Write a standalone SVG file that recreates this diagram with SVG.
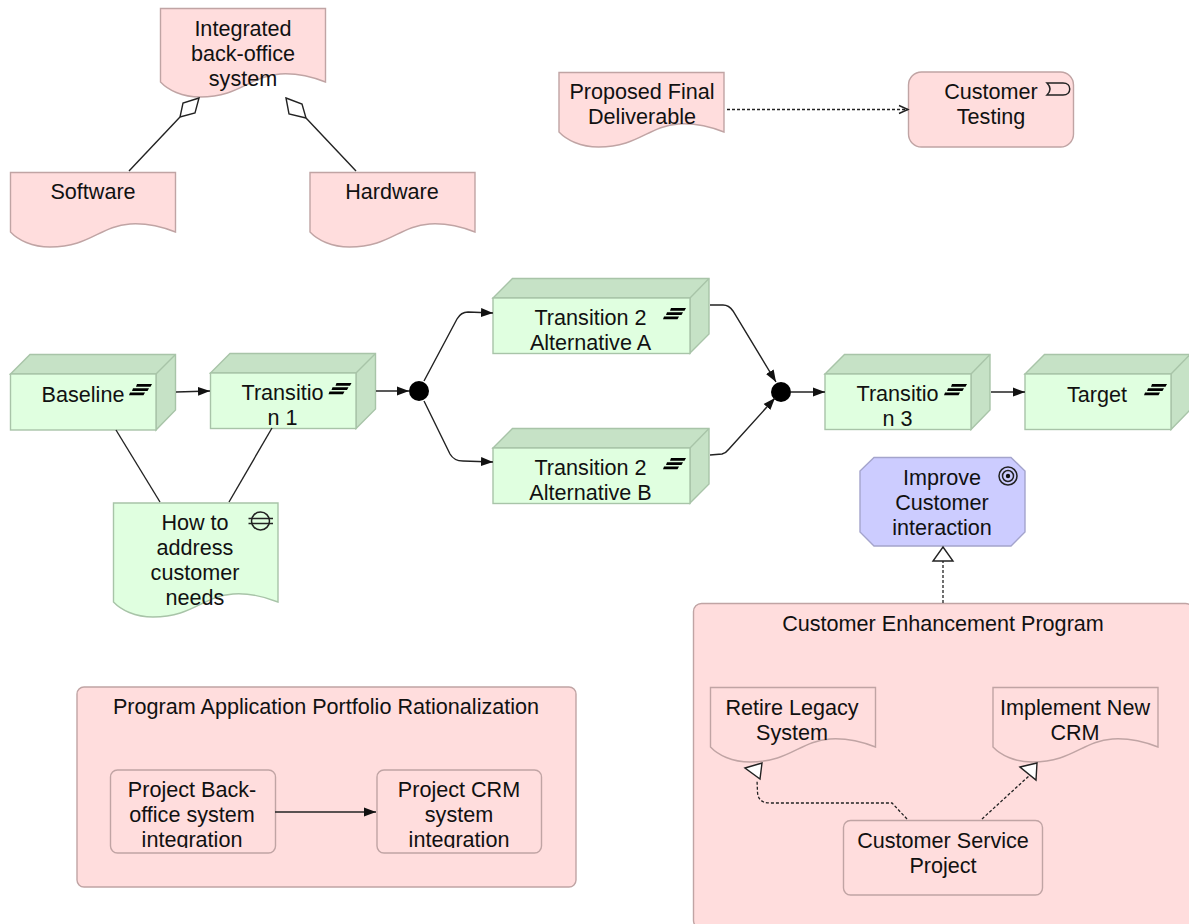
<svg xmlns="http://www.w3.org/2000/svg" width="1189" height="924" viewBox="0 0 1189 924">
<style>
text{font-family:"Liberation Sans",Arial,sans-serif;font-size:21.600px;fill:#111;text-anchor:middle;transform:translateY(0.6px)}
.p{fill:#ffdddd;stroke:#c0a4a4;stroke-width:1.4}
.g{fill:#e0ffe0;stroke:#a8c4a8;stroke-width:1.4}
.gd{fill:#c6e2c6;stroke:#a8c4a8;stroke-width:1.4}
.b{fill:#ccccff;stroke:#a4a4cc;stroke-width:1.4}
.l{fill:none;stroke:#222;stroke-width:1.4}
.d{fill:none;stroke:#222;stroke-width:1.3;stroke-dasharray:3 2}
.a{marker-end:url(#tip)}
.h{fill:#fff;stroke:#222;stroke-width:1.4}
.k{fill:#000}
.i{fill:none;stroke:#222;stroke-width:1.500}
</style>
<defs>
<marker id="tip" markerUnits="userSpaceOnUse" markerWidth="13" markerHeight="10" refX="12" refY="5" orient="auto"><path d="M0,0.500 L12,5 L0,9.500 Z" fill="#111"/></marker>
<marker id="open" markerUnits="userSpaceOnUse" markerWidth="12" markerHeight="12" refX="10" refY="6" orient="auto"><path d="M1,2 L10,6 L1,10" fill="none" stroke="#222" stroke-width="1.400"/></marker>
<path id="doc" d="M0.500,0.500 H165.500 V60 C150,54 135,51 120,52 C90,54 80,75 40,75 C22,75 8,68 0.500,60 Z"/>
<path id="doc2" d="M0.500,0.500 H165.500 V74 C150,68 135,65 120,66 C90,68 80,89 40,89 C22,89 8,82 0.500,74 Z"/>
<g id="plateau"><path class="k" d="M8,0 H23 L21.500,2.800 H7 Z M4,4.200 H20 L18.500,7 H3 Z M1,8.400 H16 L14.500,11.200 H0 Z"/></g>
<clipPath id="clipLeft"><rect x="100" y="770" width="180" height="78"/></clipPath>
<clipPath id="clipRight"><rect x="370" y="770" width="180" height="78"/></clipPath>
</defs>

<g id="program-crm"><rect class="p" x="693.500" y="603.500" width="500" height="325" rx="8"/><text x="943" y="630">Customer Enhancement Program</text></g>
<g id="program-apr"><rect class="p" x="77" y="687" width="499" height="200" rx="7"/><text x="326" y="713">Program Application Portfolio Rationalization</text></g>

<g id="integrated"><use href="#doc2" class="p" x="160" y="8"/><text x="243" y="35">Integrated</text><text x="243" y="60">back-office</text><text x="243" y="85">system</text></g>
<g id="software"><use href="#doc" class="p" x="10" y="172"/><text x="93" y="198">Software</text></g>
<g id="hardware"><use href="#doc" class="p" x="309.500" y="172"/><text x="392" y="198">Hardware</text></g>
<g id="proposed"><use href="#doc" class="p" x="558.500" y="72"/><text x="642" y="98">Proposed Final</text><text x="642" y="123">Deliverable</text></g>
<g id="testing"><rect class="p" x="908.500" y="72" width="165" height="75" rx="13"/><text x="991" y="98">Customer</text><text x="991" y="123">Testing</text><path class="i" d="M1047,83 H1063 C1072,83 1072,95 1063,95 H1047 C1051,91 1051,87 1047,83 Z"/></g>

<g id="baseline"><path class="gd" d="M10.500,374 L30,354.500 H175.500 V410 L156,430 V374 Z"/><path class="gd" d="M156,374 L175.500,354.500"/><rect class="g" x="10.500" y="374" width="145.500" height="56"/><use href="#plateau" x="129" y="384"/><text x="83" y="401">Baseline</text></g>
<g id="transition1"><path class="gd" d="M210.500,373 L230,353.500 H375.500 V409 L356,428.500 V373 Z"/><path class="gd" d="M356,373 L375.500,353.500"/><rect class="g" x="210.500" y="373" width="145.500" height="55.500"/><use href="#plateau" x="328.500" y="383"/><text x="282.500" y="399">Transitio</text><text x="282.500" y="424">n 1</text></g>
<g id="transition2a"><path class="gd" d="M493,298 L512.500,278.500 H709 V334 L690,353 V298 Z"/><path class="gd" d="M690,298 L709,278.500"/><rect class="g" x="493" y="298" width="197" height="55.500"/><use href="#plateau" x="663" y="308"/><text x="590.500" y="324">Transition 2</text><text x="590.500" y="349">Alternative A</text></g>
<g id="transition2b"><path class="gd" d="M493,448 L512.500,428.500 H709 V484 L690,503 V448 Z"/><path class="gd" d="M690,448 L709,428.500"/><rect class="g" x="493" y="448" width="197" height="55.500"/><use href="#plateau" x="663" y="458"/><text x="590.500" y="474">Transition 2</text><text x="590.500" y="499">Alternative B</text></g>
<g id="transition3"><path class="gd" d="M825,374 L844.500,354.500 H990 V410 L971,429.500 V374 Z"/><path class="gd" d="M971,374 L990,354.500"/><rect class="g" x="825" y="374" width="146" height="55.500"/><use href="#plateau" x="944" y="384"/><text x="897.500" y="400">Transitio</text><text x="897.500" y="425">n 3</text></g>
<g id="target"><path class="gd" d="M1025,374 L1044.500,354.500 H1190 V410 L1171,429.500 V374 Z"/><path class="gd" d="M1171,374 L1190,354.500"/><rect class="g" x="1025" y="374" width="146" height="55.500"/><use href="#plateau" x="1144" y="384"/><text x="1097" y="401">Target</text></g>
<g id="gap"><path class="g" d="M113.500,503 H278 V602 C263,596 248,593 233,594 C203,596 193,617 153,617 C135,617 121,610 113.500,602 Z"/><text x="195" y="529">How to</text><text x="195" y="554">address</text><text x="195" y="579">customer</text><text x="195" y="604">needs</text><circle class="i" cx="260.500" cy="521" r="9"/><path class="i" d="M248.500,518.500 H273 M248.500,523.500 H273"/></g>
<g id="junction1"><circle class="k" cx="419" cy="391" r="10"/></g>
<g id="junction2"><circle class="k" cx="781" cy="392" r="10"/></g>
<g id="goal"><path class="b" d="M874,457.500 H1011 L1025,471 V532 L1011,546 H874 L860,532 V471 Z"/><text x="942" y="484">Improve</text><text x="942" y="509">Customer</text><text x="942" y="534">interaction</text><circle class="i" cx="1008" cy="476" r="9"/><circle class="i" cx="1008" cy="476" r="5.500"/><circle cx="1008" cy="476" r="2.200" fill="#111"/></g>
<g id="retire"><use href="#doc" class="p" x="710" y="687"/><text x="792" y="714">Retire Legacy</text><text x="792" y="739">System</text></g>
<g id="implement"><use href="#doc" class="p" x="992.500" y="687"/><text x="1075" y="714">Implement New</text><text x="1075" y="739">CRM</text></g>
<g id="service"><rect class="p" x="843.500" y="820.500" width="199" height="74.500" rx="7"/><text x="943" y="847">Customer Service</text><text x="943" y="872">Project</text></g>
<g id="back-office"><rect class="p" x="110.500" y="770" width="165" height="83" rx="7"/><g clip-path="url(#clipLeft)"><text x="192" y="796">Project Back-</text><text x="192" y="821">office system</text><text x="192" y="846">integration</text></g></g>
<g id="crm-integration"><rect class="p" x="377" y="770" width="164.500" height="83" rx="7"/><g clip-path="url(#clipRight)"><text x="459" y="796">Project CRM</text><text x="459" y="821">system</text><text x="459" y="846">integration</text></g></g>

<g id="connectors">
<path class="l" d="M129,171 L180,117"/><path class="h" d="M199,98 L183,103 L180,117 L195,113 Z"/>
<path class="l" d="M356,171 L306,118"/><path class="h" d="M286,98 L302,104 L306,118 L289,114 Z"/>
<path class="d" d="M727,109.500 H908" marker-end="url(#open)"/>
<path class="l a" d="M176,392 L210,391"/>
<path class="l a" d="M376,391 H409"/>
<path class="l" d="M116,430 L160,502"/>
<path class="l" d="M272,428 L229,502"/>
<path class="l a" d="M424,381 L457,319 Q461,312 468,312 L493,313"/>
<path class="l a" d="M424,401 L450,454 Q454,461 463,461 L493,462"/>
<path class="l a" d="M710,305 H723 Q729,305 733,311 L776,382"/>
<path class="l a" d="M710,455 L722,454 Q726,453 729,449 L775,398"/>
<path class="l a" d="M791,392 H825"/>
<path class="l a" d="M991,392 H1025"/>
<path class="l a" d="M275,812 H376"/>
<path class="d" d="M943,603 V561"/><path class="h" d="M943,547 L953,561 H933 Z"/>
<path class="d" d="M907,819 L892,803 H770 Q758,803 757.500,792 L757,780"/><path class="h" d="M745,768 L762,763 L760,779 Z"/>
<path class="d" d="M982,819 L1030,775"/><path class="h" d="M1020,767 L1037,763 L1036,780 Z"/>
</g>
</svg>
